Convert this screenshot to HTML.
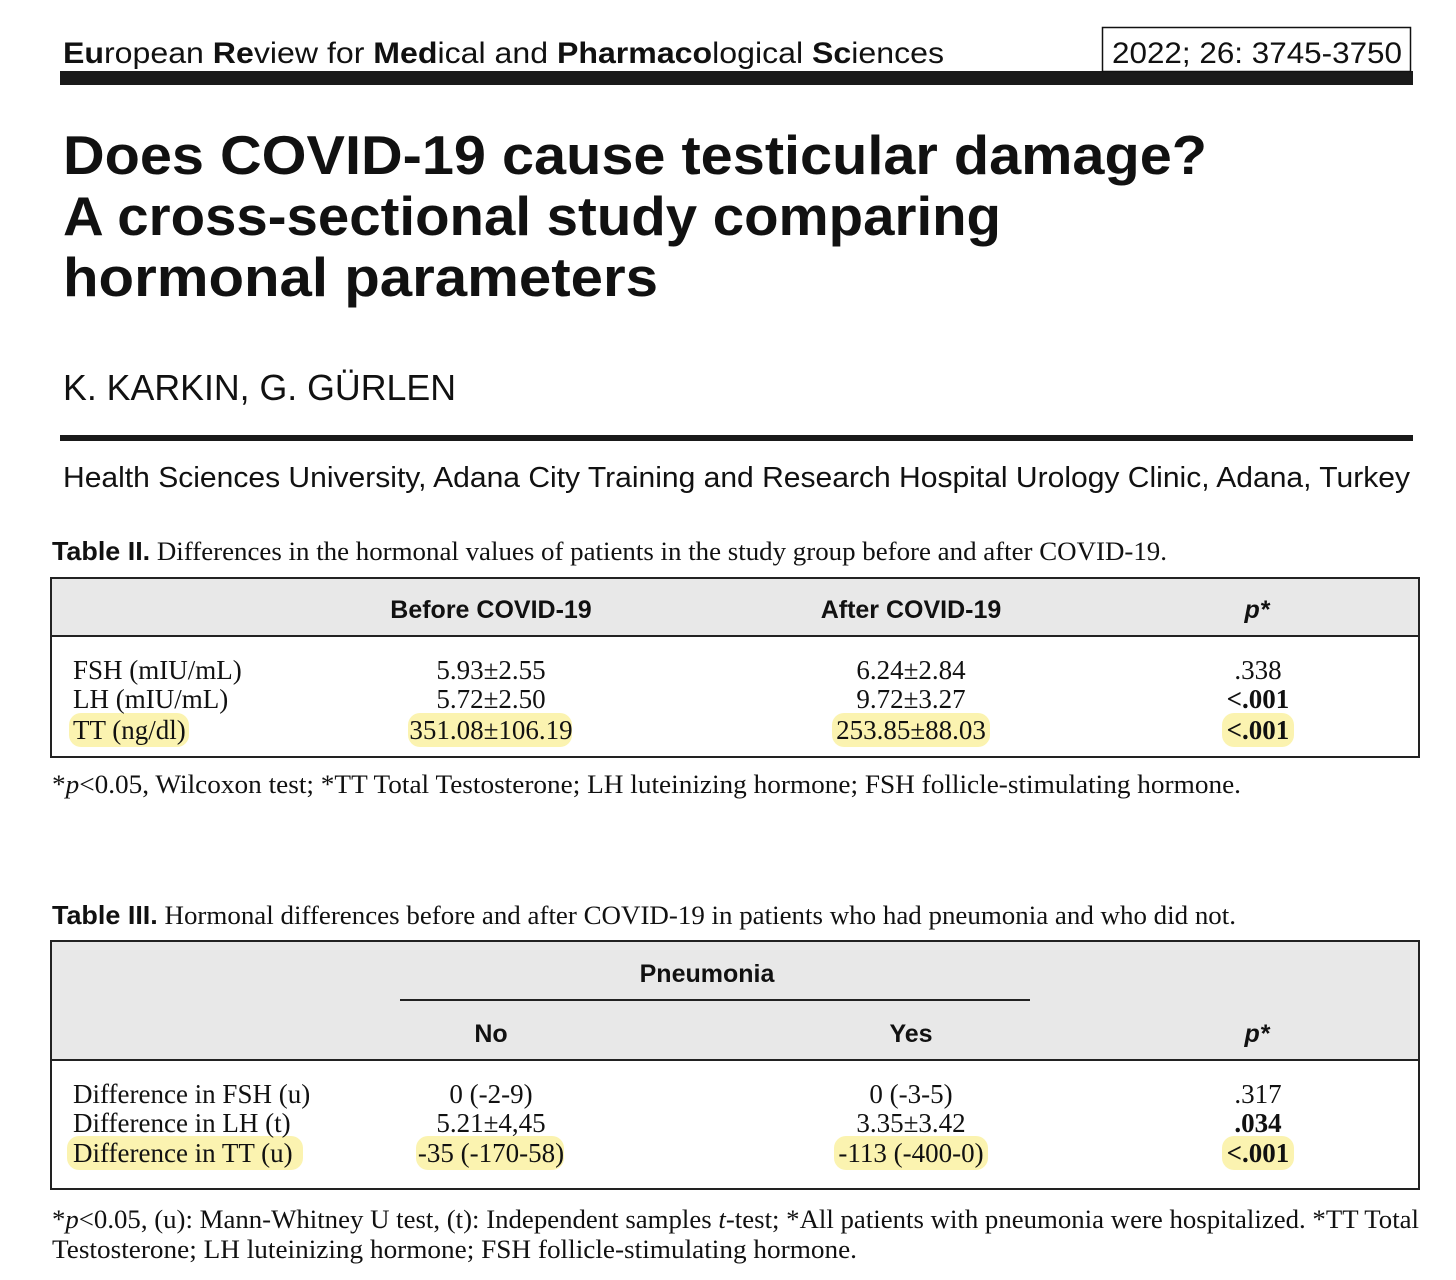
<!DOCTYPE html>
<html><head><style>body{margin:0;background:#fff}svg{display:block}</style></head>
<body>
<svg width="1456" height="1280" xmlns="http://www.w3.org/2000/svg">
<style>
.s{font-family:"Liberation Sans",sans-serif;fill:#111}
.r{font-family:"Liberation Serif",serif;fill:#111}
</style>
<!-- header -->
<text class="s" x="63" y="63" font-size="30" textLength="881" lengthAdjust="spacingAndGlyphs"><tspan font-weight="bold">Eu</tspan>ropean <tspan font-weight="bold">Re</tspan>view for <tspan font-weight="bold">Med</tspan>ical and <tspan font-weight="bold">Pharmaco</tspan>logical <tspan font-weight="bold">Sc</tspan>iences</text>
<rect x="60" y="71" width="1353" height="14" fill="#1a1a1a"/>
<rect x="1102.5" y="27.5" width="308" height="44" fill="#fff" stroke="#111" stroke-width="1.5"/>
<text class="s" x="1112" y="63" font-size="30" textLength="290" lengthAdjust="spacingAndGlyphs">2022; 26: 3745-3750</text>
<!-- title -->
<text class="s" x="63" y="174" font-size="55" font-weight="bold" textLength="1144" lengthAdjust="spacingAndGlyphs">Does COVID-19 cause testicular damage?</text>
<text class="s" x="63" y="235" font-size="55" font-weight="bold" textLength="938" lengthAdjust="spacingAndGlyphs">A cross-sectional study comparing</text>
<text class="s" x="63" y="296" font-size="55" font-weight="bold" textLength="595" lengthAdjust="spacingAndGlyphs">hormonal parameters</text>
<text class="s" x="63" y="400" font-size="36" textLength="393" lengthAdjust="spacingAndGlyphs">K. KARKIN, G. GÜRLEN</text>
<rect x="60" y="435" width="1353" height="6" fill="#1a1a1a"/>
<text class="s" x="63" y="487" font-size="29" textLength="1347" lengthAdjust="spacingAndGlyphs">Health Sciences University, Adana City Training and Research Hospital Urology Clinic, Adana, Turkey</text>
<!-- Table II -->
<text x="52" y="560" font-size="26" textLength="1115" lengthAdjust="spacingAndGlyphs"><tspan class="s" font-weight="bold">Table II.</tspan><tspan class="r"> Differences in the hormonal values of patients in the study group before and after COVID-19.</tspan></text>
<rect x="51" y="578" width="1368" height="58" fill="#e8e8e8"/>
<rect x="51" y="578" width="1368" height="179" fill="none" stroke="#222" stroke-width="2"/>
<line x1="51" y1="636" x2="1419" y2="636" stroke="#222" stroke-width="2"/>
<g class="s" font-size="25" font-weight="bold" text-anchor="middle">
<text x="491" y="618">Before COVID-19</text>
<text x="911" y="618">After COVID-19</text>
<text x="1257" y="618" font-style="italic">p*</text>
</g>
<g fill="#fbf3b0">
<rect x="69" y="713" width="120" height="34" rx="12"/>
<rect x="408" y="713" width="164" height="34" rx="12"/>
<rect x="832" y="713" width="158" height="34" rx="12"/>
<rect x="1222" y="713" width="72" height="34" rx="12"/>
</g>
<g class="r" font-size="27">
<text x="73" y="679">FSH (mIU/mL)</text>
<text x="73" y="708">LH (mIU/mL)</text>
<text x="73" y="739">TT (ng/dl)</text>
</g>
<g class="r" font-size="27" text-anchor="middle">
<text x="491" y="679">5.93±2.55</text><text x="491" y="708">5.72±2.50</text><text x="491" y="739">351.08±106.19</text>
<text x="911" y="679">6.24±2.84</text><text x="911" y="708">9.72±3.27</text><text x="911" y="739">253.85±88.03</text>
<text x="1258" y="679">.338</text><text x="1258" y="708" font-weight="bold">&lt;.001</text><text x="1258" y="739" font-weight="bold">&lt;.001</text>
</g>
<text class="r" x="52" y="793" font-size="26" textLength="1189" lengthAdjust="spacingAndGlyphs">*<tspan font-style="italic">p</tspan>&lt;0.05, Wilcoxon test; *TT Total Testosterone; LH luteinizing hormone; FSH follicle-stimulating hormone.</text>
<!-- Table III -->
<text x="52" y="924" font-size="26" textLength="1184" lengthAdjust="spacingAndGlyphs"><tspan class="s" font-weight="bold">Table III.</tspan><tspan class="r"> Hormonal differences before and after COVID-19 in patients who had pneumonia and who did not.</tspan></text>
<rect x="51" y="941" width="1368" height="119" fill="#e8e8e8"/>
<rect x="51" y="941" width="1368" height="248" fill="none" stroke="#222" stroke-width="2"/>
<line x1="51" y1="1060" x2="1419" y2="1060" stroke="#222" stroke-width="2"/>
<line x1="400" y1="1000" x2="1030" y2="1000" stroke="#222" stroke-width="2"/>
<g class="s" font-size="25" font-weight="bold" text-anchor="middle">
<text x="707" y="982">Pneumonia</text>
<text x="491" y="1042">No</text>
<text x="911" y="1042">Yes</text>
<text x="1257" y="1042" font-style="italic">p*</text>
</g>
<g fill="#fbf3b0">
<rect x="67" y="1136" width="236" height="34" rx="12"/>
<rect x="416" y="1136" width="148" height="34" rx="12"/>
<rect x="834" y="1136" width="154" height="34" rx="12"/>
<rect x="1222" y="1136" width="72" height="34" rx="12"/>
</g>
<g class="r" font-size="27">
<text x="73" y="1103">Difference in FSH (u)</text>
<text x="73" y="1132">Difference in LH (t)</text>
<text x="73" y="1162">Difference in TT (u)</text>
</g>
<g class="r" font-size="27" text-anchor="middle">
<text x="491" y="1103">0 (-2-9)</text><text x="491" y="1132">5.21±4,45</text><text x="491" y="1162">-35 (-170-58)</text>
<text x="911" y="1103">0 (-3-5)</text><text x="911" y="1132">3.35±3.42</text><text x="911" y="1162">-113 (-400-0)</text>
<text x="1258" y="1103">.317</text><text x="1258" y="1132" font-weight="bold">.034</text><text x="1258" y="1162" font-weight="bold">&lt;.001</text>
</g>
<text class="r" x="52" y="1228" font-size="26" textLength="1367" lengthAdjust="spacingAndGlyphs">*<tspan font-style="italic">p</tspan>&lt;0.05, (u): Mann-Whitney U test, (t): Independent samples <tspan font-style="italic">t</tspan>-test; *All patients with pneumonia were hospitalized. *TT Total</text>
<text class="r" x="52" y="1258" font-size="26" textLength="805" lengthAdjust="spacingAndGlyphs">Testosterone; LH luteinizing hormone; FSH follicle-stimulating hormone.</text>
</svg>
</body></html>
